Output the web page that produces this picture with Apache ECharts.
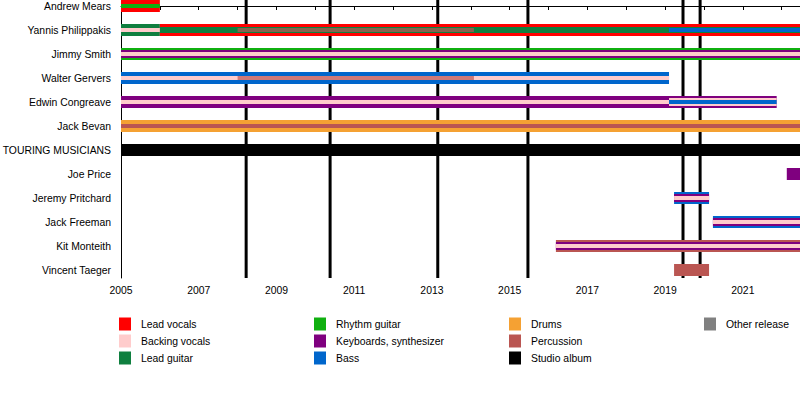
<!DOCTYPE html>
<html>
<head>
<meta charset="utf-8">
<script src="https://cdn.jsdelivr.net/npm/echarts@6/dist/echarts.min.js"></script>
<style>html,body{margin:0;padding:0;background:#fff}#c{width:800px;height:395px}</style>
</head>
<body>
<div id="c"></div>
<script>
// ---------- DATA ----------
const rowNames = ['Andrew Mears','Yannis Philippakis','Jimmy Smith','Walter Gervers','Edwin Congreave','Jack Bevan','TOURING MUSICIANS','Joe Price','Jeremy Pritchard','Jack Freeman','Kit Monteith','Vincent Taeger'];
const START = 2005;
const PRESENT = 2022.47;
const tickYears = [2005,2006,2007,2008,2009,2010,2011,2012,2013,2014,2015,2016,2017,2018,2019,2020,2021,2022];
const labelYears = [2005,2007,2009,2011,2013,2015,2017,2019,2021];
const studioAlbums = [2008.22, 2010.38, 2013.15, 2015.47, 2019.46, 2019.90];
const roles = ['Lead vocals','Backing vocals','Lead guitar','Rhythm guitar','Keyboards, synthesizer','Bass','Drums','Percussion','Studio album','Other release'];
// [row, from, to, role] per drawing layer
const outerBars = [
  [0, 2005, 2006, 'Lead vocals'],
  [1, 2005, 2006, 'Lead guitar'],
  [1, 2006, PRESENT, 'Lead vocals'],
  [2, 2005, PRESENT, 'Rhythm guitar'],
  [3, 2005, 2019.10, 'Bass'],
  [4, 2005, 2021.87, 'Keyboards, synthesizer'],
  [5, 2005, PRESENT, 'Drums'],
  [6, 2005, PRESENT, 'Studio album'],
  [7, 2022.13, PRESENT, 'Keyboards, synthesizer'],
  [8, 2019.23, 2020.13, 'Bass'],
  [9, 2020.23, PRESENT, 'Bass'],
  [10, 2016.19, PRESENT, 'Percussion'],
  [11, 2019.23, 2020.13, 'Percussion']
];
const midBars = [
  [2, 2005, PRESENT, 'Keyboards, synthesizer'],
  [4, 2019.10, 2021.87, 'Backing vocals'],
  [8, 2019.23, 2020.13, 'Keyboards, synthesizer'],
  [9, 2020.23, PRESENT, 'Keyboards, synthesizer'],
  [10, 2016.19, PRESENT, 'Keyboards, synthesizer']
];
const bandBars = [
  [1, 2006, PRESENT, 'Lead guitar']
];
const innerBars = [
  [0, 2005, 2006, 'Rhythm guitar'],
  [1, 2005, 2006, 'Backing vocals'],
  [1, 2019.10, PRESENT, 'Bass'],
  [2, 2005, PRESENT, 'Backing vocals'],
  [3, 2005, 2019.10, 'Backing vocals'],
  [4, 2005, 2019.10, 'Backing vocals'],
  [4, 2019.10, 2021.87, 'Bass'],
  [5, 2005, PRESENT, 'Percussion'],
  [8, 2019.23, 2020.13, 'Backing vocals'],
  [9, 2020.23, PRESENT, 'Backing vocals'],
  [10, 2016.19, PRESENT, 'Backing vocals']
];
const overlayBars = [
  [1, 2008.0, 2014.08, 'Percussion'],
  [3, 2008.0, 2014.08, 'Percussion']
];
const legendColumns = [
  ['Lead vocals','Backing vocals','Lead guitar'],
  ['Rhythm guitar','Keyboards, synthesizer','Bass'],
  ['Drums','Percussion','Studio album'],
  ['Other release']
];

// ---------- STYLE ----------
const roleColors = {
  'Lead vocals':'#FF0000','Backing vocals':'#FFCCCC','Lead guitar':'#0F7F3F','Rhythm guitar':'#10B010',
  'Keyboards, synthesizer':'#7F007F','Bass':'#0066CC','Drums':'#F5A133','Percussion':'#BA5652',
  'Studio album':'#000000','Other release':'#808080'
};
const FONT = "'Liberation Sans', Arial, Helvetica, sans-serif";
const FS = 10.4;
const layers = [
  {bars: outerBars, h: 12, op: 1},
  {bars: midBars, h: 8, op: 1},
  {bars: bandBars, h: 6, op: 1},
  {bars: innerBars, h: 4, op: 1},
  {bars: overlayBars, h: 4, op: 0.7}
];
const items = [];
layers.forEach((L, li) => L.bars.forEach(b => items.push({value:[b[1], b[2], b[0]], h: L.h, op: L.op, z: li, color: roleColors[b[3]]})));

function renderBar(params, api) {
  const it = items[params.dataIndex];
  const p0 = api.coord([api.value(0), api.value(2)]);
  const p1 = api.coord([api.value(1), api.value(2)]);
  const cs = params.coordSys;
  const shape = echarts.graphic.clipRectByRect(
    {x: p0[0], y: p0[1] - it.h / 2, width: p1[0] - p0[0], height: it.h},
    {x: cs.x, y: cs.y - 20, width: cs.width, height: cs.height + 20});
  if (!shape) return null;
  return {type:'rect', shape, z2: it.z, style:{fill: it.color, opacity: it.op}};
}
function renderAlbum(params, api) {
  const p = api.coord([api.value(0), 0]);
  const cs = params.coordSys;
  return {type:'rect', shape:{x: p[0] - 1.5, y: cs.y, width: 3, height: cs.height}, style:{fill: roleColors['Studio album']}};
}

const legendSeries = roles.filter(r => r !== 'Studio album').map(r => ({
  type:'custom', name: r, data: [], renderItem: () => null, itemStyle:{color: roleColors[r]}
}));

const chart = echarts.init(document.getElementById('c'), null, {renderer:'svg'});
chart.setOption({
  animation: false,
  backgroundColor: '#fff',
  textStyle: {fontFamily: FONT},
  grid: {left: 121, right: 0, top: 0, bottom: 117, containLabel: false, outerBoundsMode: 'none'},
  xAxis: {
    type:'value', min: START, max: PRESENT,
    axisLine:{show:true, lineStyle:{color:'#000', width:1}},
    axisTick:{show:true, customValues: tickYears, length:4, lineStyle:{color:'#000'}},
    axisLabel:{customValues: labelYears, formatter: v => String(v), margin:7, fontSize:FS, color:'#000', fontFamily: FONT},
    splitLine:{show:false}
  },
  yAxis: {
    type:'value', inverse:true, min:-0.25, max: 278/24 - 0.25,
    axisLine:{show:true, lineStyle:{color:'#000', width:1}},
    axisTick:{show:false},
    axisLabel:{customValues: rowNames.map((_, i) => i), formatter: v => rowNames[Math.round(v)] || '', margin:10, fontSize:FS, color:'#000', fontFamily: FONT},
    splitLine:{show:false}
  },
  legend: legendColumns.map((names, i) => ({
    orient:'vertical', left: 119 + 195 * i, top: 317.5, padding: 0,
    itemWidth: 12, itemHeight: 13, itemGap: 4, icon:'rect', selectedMode:false,
    data: names,
    textStyle:{fontSize:FS, color:'#000', fontFamily: FONT, padding:[0,0,0,5]}
  })),
  series: [
    {type:'custom', name:'Studio album', z:1, itemStyle:{color: roleColors['Studio album']},
     data: studioAlbums.map(d => [d]), renderItem: renderAlbum, silent:true},
    {type:'custom', name:'bars', z:2, data: items.map(it => it.value), renderItem: renderBar, silent:true,
     encode:{x:[0,1], y:2}},
    ...legendSeries
  ]
});
</script>
</body>
</html>
